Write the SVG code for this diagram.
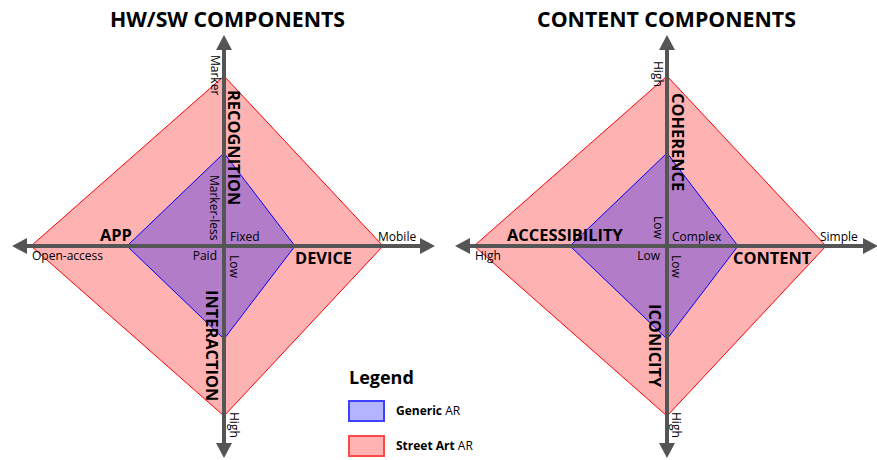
<svg xmlns="http://www.w3.org/2000/svg" width="877" height="460" viewBox="0 0 877 460">
<style>
text{font-family:"Open Sans","Liberation Sans",sans-serif;fill:#000}
.t{font-size:21.3px;font-weight:bold;text-anchor:middle}
.b{font-size:16.4px;font-weight:bold}
.n{font-size:12px}
.red{fill:#ff0000;fill-opacity:0.3;stroke:#ff0000;stroke-width:1}
.blue{fill:#0000ff;fill-opacity:0.3;stroke:#0000ff;stroke-width:1}
.axis{stroke:#555555;stroke-width:4;fill:none;marker-start:url(#ah);marker-end:url(#ah)}
</style>
<defs>
<marker id="ah" markerUnits="userSpaceOnUse" markerWidth="15" markerHeight="16" refX="0" refY="8" orient="auto-start-reverse" overflow="visible">
<path d="M0,0 L15,8 L0,16 z" fill="#555555"/>
</marker>
</defs>
<g id="hwsw">
<text class="t" x="227.5" y="27">HW/SW COMPONENTS</text>
<polygon id="hwsw-street" class="red" points="224,76 383,246 224,416 31,246"/>
<polygon id="hwsw-generic" class="blue" points="224,153 295,246 224,339 127,246"/>
</g>
<g id="content">
<text class="t" x="666.5" y="27">CONTENT COMPONENTS</text>
<polygon id="content-street" class="red" points="667,76 826,246 667,416 474,246"/>
<polygon id="content-generic" class="blue" points="667,153 738,246 667,339 570,246"/>
</g>
<g id="connectors">
<line class="axis" x1="224" y1="50" x2="224" y2="443"/>
<line class="axis" x1="27" y1="246" x2="420" y2="246"/>
<line class="axis" x1="667" y1="50" x2="667" y2="443"/>
<line class="axis" x1="470" y1="246" x2="863" y2="246"/>
</g>
<g id="hwsw-labels">
<text class="n" transform="translate(211,55) rotate(90)">Marker</text>
<text class="n" transform="translate(210,175) rotate(90)">Marker-less</text>
<text class="b" transform="translate(228,90) rotate(90)">RECOGNITION</text>
<text class="n" transform="translate(230,255) rotate(90)">Low</text>
<text class="b" transform="translate(206,290) rotate(90)">INTERACTION</text>
<text class="n" transform="translate(230,412) rotate(90)">High</text>
<text class="b" x="100" y="241">APP</text>
<text class="n" x="230" y="241">Fixed</text>
<text class="n" x="378" y="241">Mobile</text>
<text class="n" x="32" y="260">Open-access</text>
<text class="n" x="217" y="260" text-anchor="end">Paid</text>
<text class="b" x="295" y="264">DEVICE</text>
</g>
<g id="content-labels">
<text class="n" transform="translate(654,61) rotate(90)">High</text>
<text class="b" transform="translate(672,93) rotate(90)">COHERENCE</text>
<text class="n" transform="translate(654,216) rotate(90)">Low</text>
<text class="n" transform="translate(672,255) rotate(90)">Low</text>
<text class="b" transform="translate(649,304) rotate(90)">ICONICITY</text>
<text class="n" transform="translate(672,412) rotate(90)">High</text>
<text class="b" x="507" y="241">ACCESSIBILITY</text>
<text class="n" x="672" y="241">Complex</text>
<text class="n" x="820" y="241">Simple</text>
<text class="n" x="475" y="260">High</text>
<text class="n" x="660" y="260" text-anchor="end">Low</text>
<text class="b" x="733" y="264">CONTENT</text>
</g>
<g id="legend">
<text x="349" y="384" style="font-size:18px;font-weight:bold">Legend</text>
<rect x="349" y="401" width="35" height="20" fill="#b3b3ff" stroke="#4040ff" stroke-width="2"/>
<rect x="349" y="436" width="35" height="20" fill="#ffb3b3" stroke="#ff4848" stroke-width="2"/>
<text class="n" x="396" y="415"><tspan font-weight="bold">Generic</tspan> AR</text>
<text class="n" x="396" y="450"><tspan font-weight="bold">Street Art</tspan> AR</text>
</g>
</svg>
